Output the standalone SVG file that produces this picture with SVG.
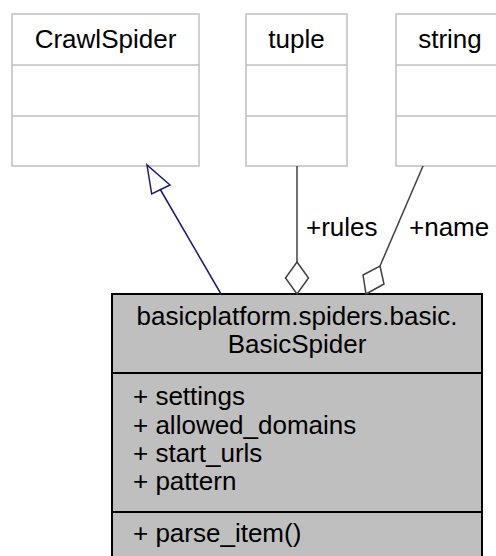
<svg xmlns="http://www.w3.org/2000/svg" width="496" height="556" viewBox="0 0 496 556">
<style>
text { font-family: "Liberation Sans", Arial, Helvetica, sans-serif; font-size: 26px; fill: #000; }
.c { text-anchor: middle; }
.ext { fill: #fff; stroke: #bfbfbf; stroke-width: 1.5; }
.main { fill: #bfbfbf; stroke: #000; stroke-width: 2; }
.inh { stroke: #191970; stroke-width: 1.5; fill: none; }
.agg { stroke: #404040; stroke-width: 1.5; fill: none; }
</style>
<rect width="496" height="556" fill="#fff"/>
<g id="CrawlSpider">
  <rect class="ext" x="12" y="14" width="187" height="152"/>
  <line class="ext" x1="12" y1="65" x2="199" y2="65"/>
  <line class="ext" x1="12" y1="116" x2="199" y2="116"/>
  <text class="c" x="105.5" y="48">CrawlSpider</text>
</g>
<g id="tuple">
  <rect class="ext" x="246" y="14" width="101" height="152"/>
  <line class="ext" x1="246" y1="65" x2="347" y2="65"/>
  <line class="ext" x1="246" y1="116" x2="347" y2="116"/>
  <text class="c" x="296.5" y="48">tuple</text>
</g>
<g id="string">
  <rect class="ext" x="396" y="14" width="108" height="152"/>
  <line class="ext" x1="396" y1="65" x2="504" y2="65"/>
  <line class="ext" x1="396" y1="116" x2="504" y2="116"/>
  <text class="c" x="450" y="48">string</text>
</g>
<g id="BasicSpider">
  <rect class="main" x="112" y="294" width="370" height="280"/>
  <line class="main" x1="112" y1="373" x2="482" y2="373"/>
  <line class="main" x1="112" y1="512" x2="482" y2="512"/>
  <text class="c" x="297" y="325">basicplatform.spiders.basic.</text>
  <text class="c" x="297" y="353">BasicSpider</text>
  <text x="133" y="405">+ settings</text>
  <text x="133" y="434">+ allowed_domains</text>
  <text x="133" y="462">+ start_urls</text>
  <text x="133" y="490">+ pattern</text>
  <text x="133" y="542">+ parse_item()</text>
</g>
<g id="connectors">
  <line class="inh" x1="221" y1="294" x2="160" y2="189"/>
  <polygon class="inh" fill="#fff" points="147,165 151.7,194 170,185"/>
  <line class="agg" x1="297" y1="166" x2="297" y2="262"/>
  <polygon class="agg" fill="#fff" points="297,262 308.5,278 297,294 285.5,278"/>
  <text x="306" y="236">+rules</text>
  <line class="agg" x1="423" y1="166" x2="380" y2="266"/>
  <polygon class="agg" fill="#fff" points="380,266 384,284 366,294 363,275"/>
  <text x="409" y="236">+name</text>
</g>
</svg>
